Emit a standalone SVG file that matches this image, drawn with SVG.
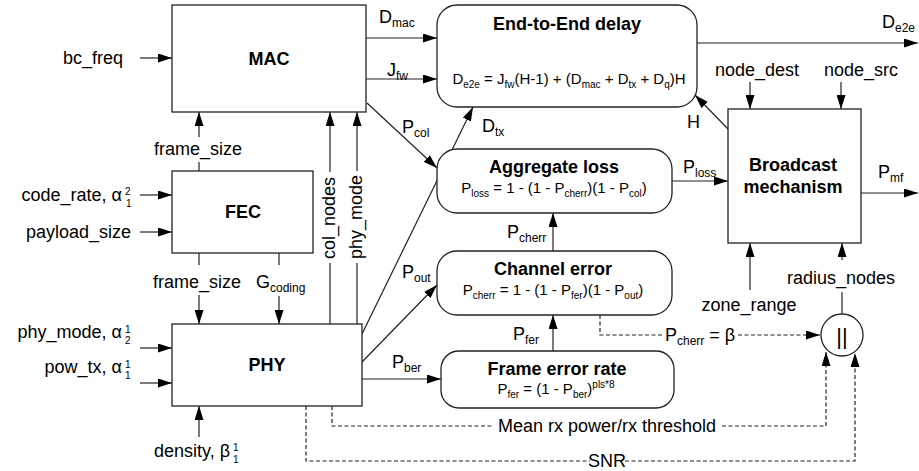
<svg xmlns="http://www.w3.org/2000/svg" width="919" height="471" viewBox="0 0 919 471">
  <defs>
    <marker id="ah" viewBox="0 0 14 9" markerWidth="14" markerHeight="9" refX="14" refY="4.5" orient="auto" markerUnits="userSpaceOnUse">
      <path d="M0,0 L14,4.5 L0,9 z" fill="#000"/>
    </marker>
    <style>
      .box { fill: #fff; stroke: #222; stroke-width: 1.3; }
      .ln { fill: none; stroke: #222; stroke-width: 1.2; }
      .ar { marker-end: url(#ah); }
      .dash { stroke-dasharray: 4 2.5; }
      text { font-family: "Liberation Sans", Arial, sans-serif; font-size: 18px; fill: #000; }
      .b { font-weight: bold; }
      .m { text-anchor: middle; }
      .e { text-anchor: end; }
      .f { font-size: 15px; }
      .s { font-size: 12px; }
      .fs { font-size: 10px; }
      .sc { font-size: 10px; }
    </style>
  </defs>

  <!-- connectors -->
  <g id="connectors">
    <!-- external inputs -->
    <path class="ln ar" d="M140,58 H172"/>
    <path class="ln ar" d="M140,195 H172"/>
    <path class="ln ar" d="M140,232 H172"/>
    <path class="ln ar" d="M140,348 H172"/>
    <path class="ln ar" d="M140,383 H172"/>
    <path class="ln ar" d="M199,437 V406"/>
    <!-- FEC -> MAC frame_size -->
    <path class="ln" d="M199,171 V162"/>
    <path class="ln ar" d="M199,137 V112"/>
    <!-- FEC -> PHY -->
    <path class="ln" d="M199,253 V265"/>
    <path class="ln ar" d="M199,295 V324"/>
    <path class="ln" d="M279,253 V265"/>
    <path class="ln ar" d="M279,296 V324"/>
    <!-- PHY -> MAC -->
    <path class="ln" d="M330,324 V263"/>
    <path class="ln ar" d="M330,172 V112"/>
    <path class="ln" d="M357,324 V263"/>
    <path class="ln ar" d="M357,171 V112"/>
    <!-- MAC outputs -->
    <path class="ln ar" d="M366,38 H437"/>
    <path class="ln ar" d="M366,79 H437"/>
    <path class="ln ar" d="M367,103 L437,168"/>
    <!-- PHY outputs -->
    <path class="ln ar" d="M362,334 L473,107"/>
    <path class="ln ar" d="M362,362 L437,285"/>
    <path class="ln ar" d="M362,379 H441"/>
    <!-- error chain -->
    <path class="ln ar" d="M553,351 V315"/>
    <path class="ln ar" d="M553,251 V213"/>
    <path class="ln ar" d="M672,181 H728"/>
    <!-- broadcast mechanism -->
    <path class="ln ar" d="M861,193 H918"/>
    <path class="ln ar" d="M697,43 H918"/>
    <path class="ln ar" d="M728,129 L695,95"/>
    <path class="ln ar" d="M750,82 V109"/>
    <path class="ln ar" d="M841,82 V109"/>
    <path class="ln ar" d="M750,290 V243"/>
    <path class="ln" d="M842,314 V292"/>
    <path class="ln ar" d="M842,260 V243"/>
    <!-- dashed feeds into the parallel block -->
    <path class="ln dash" d="M600,315 V335 H662"/>
    <path class="ln dash ar" d="M738,335 H820"/>
    <path class="ln dash" d="M332,406 V426 H492"/>
    <path class="ln dash ar" d="M722,426 H826 V352"/>
    <path class="ln dash" d="M306,406 V461 H590"/>
    <path class="ln dash ar" d="M625,461 H855 V353"/>
  </g>

  <!-- connector labels -->
  <g id="labels">
    <text x="123" y="64" class="e">bc_freq</text>
    <text x="198" y="155" class="m">frame_size</text>
    <text x="122" y="201" class="e">code_rate, α</text>
    <text x="125" y="195" class="sc">2</text>
    <text x="126" y="207" class="sc">1</text>
    <text x="131" y="238" class="e">payload_size</text>
    <text x="197" y="288" class="m">frame_size</text>
    <text x="256" y="288">G<tspan class="s" dy="4">coding</tspan></text>
    <text transform="translate(335,218) rotate(-90)" class="m">col_nodes</text>
    <text transform="translate(362,217) rotate(-90)" class="m">phy_mode</text>
    <text x="122" y="338" class="e">phy_mode, α</text>
    <text x="125" y="333" class="sc">1</text>
    <text x="125" y="344" class="sc">2</text>
    <text x="122" y="373" class="e">pow_tx, α</text>
    <text x="125" y="368" class="sc">1</text>
    <text x="125" y="379" class="sc">1</text>
    <text x="230" y="457" class="e">density, β</text>
    <text x="233" y="451" class="sc">1</text>
    <text x="233" y="463" class="sc">1</text>
    <text x="379" y="23">D<tspan class="s" dy="4">mac</tspan></text>
    <text x="387" y="76">J<tspan class="s" dy="4">fw</tspan></text>
    <text x="402" y="133">P<tspan class="s" dy="4">col</tspan></text>
    <text x="482" y="132">D<tspan class="s" dy="4">tx</tspan></text>
    <text x="402" y="278">P<tspan class="s" dy="4">out</tspan></text>
    <text x="392" y="368">P<tspan class="s" dy="4">ber</tspan></text>
    <text x="513" y="340">P<tspan class="s" dy="4">fer</tspan></text>
    <text x="507" y="238">P<tspan class="s" dy="4">cherr</tspan></text>
    <text x="683" y="173">P<tspan class="s" dy="4">loss</tspan></text>
    <text x="878" y="178">P<tspan class="s" dy="4">mf</tspan></text>
    <text x="882" y="28">D<tspan class="s" dy="4">e2e</tspan></text>
    <text x="687" y="128">H</text>
    <text x="757" y="76" class="m">node_dest</text>
    <text x="861" y="76" class="m">node_src</text>
    <text x="749" y="311" class="m">zone_range</text>
    <text x="841" y="284" class="m">radius_nodes</text>
    <text x="665" y="341">P<tspan class="s" dy="4">cherr</tspan><tspan dy="-4"> = β</tspan></text>
    <text x="607" y="432" class="m">Mean rx power/rx threshold</text>
    <text x="607" y="467" class="m">SNR</text>
  </g>

  <!-- nodes -->
  <g id="mac">
    <rect class="box" x="172" y="5" width="194" height="107"/>
    <text x="269" y="65" class="m b">MAC</text>
  </g>
  <g id="fec">
    <rect class="box" x="172" y="171" width="141" height="82"/>
    <text x="243" y="218" class="m b">FEC</text>
  </g>
  <g id="phy">
    <rect class="box" x="172" y="324" width="190" height="82"/>
    <text x="267" y="371" class="m b">PHY</text>
  </g>
  <g id="end-to-end-delay">
    <rect class="box" x="437" y="5" width="260" height="102" rx="20"/>
    <text x="567" y="30" class="m b">End-to-End delay</text>
    <text x="569" y="84" class="m f">D<tspan class="fs" dy="4">e2e</tspan><tspan dy="-4"> = J</tspan><tspan class="fs" dy="4">fw</tspan><tspan dy="-4">(H-1) + (D</tspan><tspan class="fs" dy="4">mac</tspan><tspan dy="-4"> + D</tspan><tspan class="fs" dy="4">tx</tspan><tspan dy="-4"> + D</tspan><tspan class="fs" dy="4">q</tspan><tspan dy="-4">)H</tspan></text>
  </g>
  <g id="aggregate-loss">
    <rect class="box" x="437" y="149" width="235" height="64" rx="20"/>
    <text x="554" y="173" class="m b">Aggregate loss</text>
    <text x="554" y="193" class="m f">P<tspan class="fs" dy="4">loss</tspan><tspan dy="-4"> = 1 - (1 - P</tspan><tspan class="fs" dy="4">cherr</tspan><tspan dy="-4">)(1 - P</tspan><tspan class="fs" dy="4">col</tspan><tspan dy="-4">)</tspan></text>
  </g>
  <g id="channel-error">
    <rect class="box" x="437" y="251" width="235" height="64" rx="20"/>
    <text x="553" y="275" class="m b">Channel error</text>
    <text x="553" y="295" class="m f">P<tspan class="fs" dy="4">cherr</tspan><tspan dy="-4"> = 1 - (1 - P</tspan><tspan class="fs" dy="4">fer</tspan><tspan dy="-4">)(1 - P</tspan><tspan class="fs" dy="4">out</tspan><tspan dy="-4">)</tspan></text>
  </g>
  <g id="frame-error-rate">
    <rect class="box" x="441" y="351" width="233" height="57" rx="18"/>
    <text x="557" y="375" class="m b">Frame error rate</text>
    <text x="556" y="394" class="m f">P<tspan class="fs" dy="4">fer</tspan><tspan dy="-4"> = (1 - P</tspan><tspan class="fs" dy="4">ber</tspan><tspan dy="-4">)</tspan><tspan class="fs" dy="-6">pls*8</tspan></text>
  </g>
  <g id="broadcast-mechanism">
    <rect class="box" x="728" y="109" width="133" height="134"/>
    <text x="793" y="171" class="m b">Broadcast</text>
    <text x="793" y="193" class="m b">mechanism</text>
  </g>
  <g id="parallel">
    <circle class="box" cx="842" cy="335" r="21"/>
    <text x="842" y="344" class="m" style="font-size:22px">||</text>
  </g>
</svg>
